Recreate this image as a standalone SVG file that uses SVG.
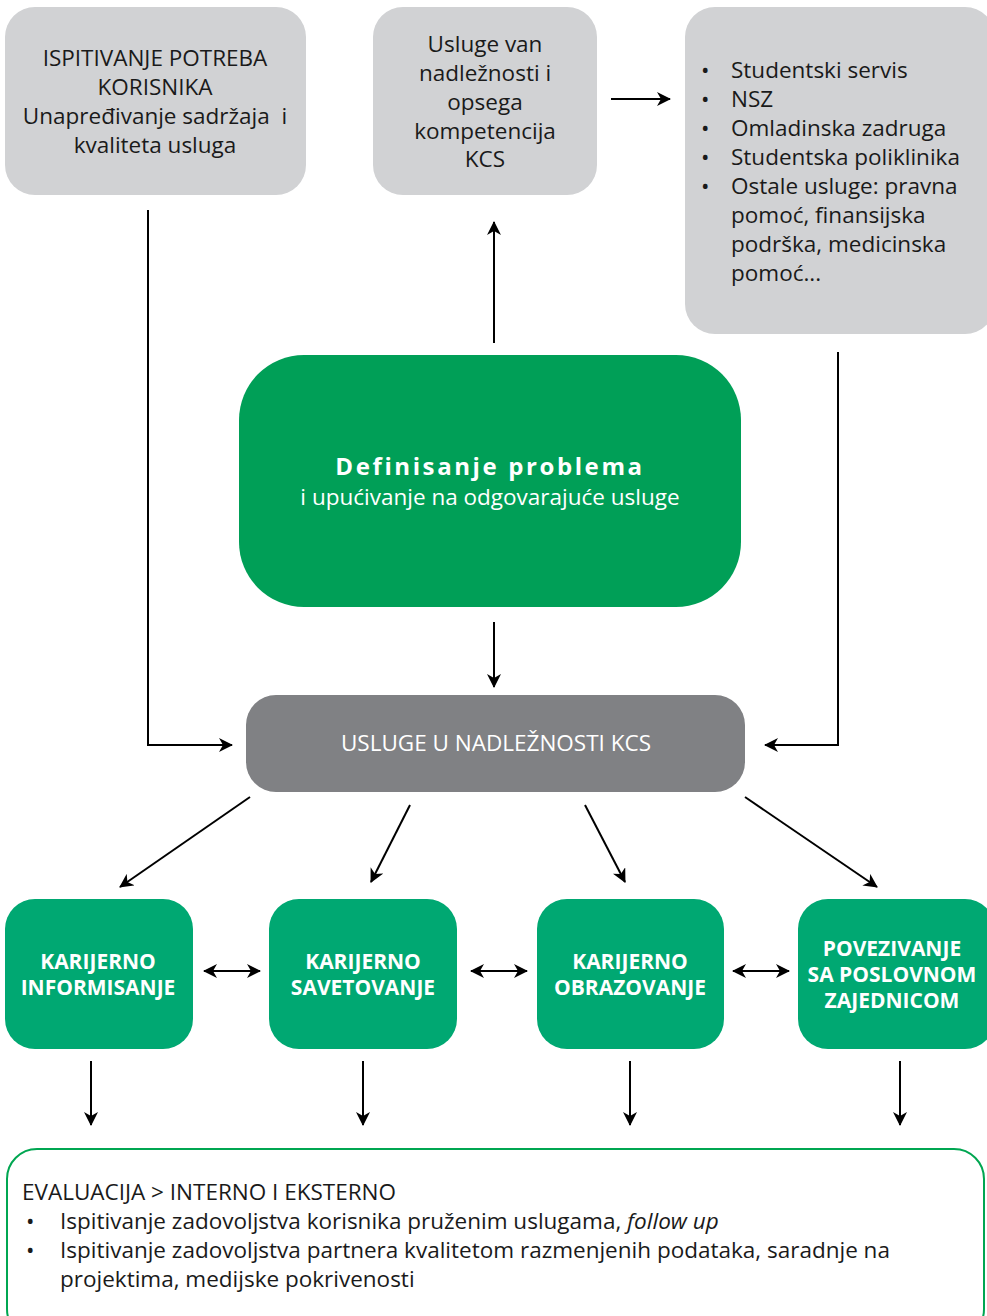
<svg xmlns="http://www.w3.org/2000/svg" width="987" height="1316" viewBox="0 0 987 1316">
<defs>
<marker id="ah2" viewBox="0 0 14 14" refX="13" refY="7" markerWidth="14" markerHeight="14" markerUnits="userSpaceOnUse" orient="auto-start-reverse">
<path d="M0,0 L14,7 L0,14 L4,7 Z" fill="#000"/>
</marker>
</defs>
<style>
.lg{fill:#d1d2d4}
.t{font-family:"Open Sans","Liberation Sans",sans-serif;font-size:22.5px;fill:#1a1a1a}
.tc{text-anchor:middle}
.w{fill:#fff}
.sb{font-family:"Open Sans","Liberation Sans",sans-serif;font-size:21px;font-weight:bold;fill:#fff;text-anchor:middle}
.c{stroke:#000;stroke-width:2;fill:none}
.ca{marker-end:url(#ah2)}
</style>
<rect width="987" height="1316" fill="#fff"/>

<g id="node-ispitivanje">
<rect class="lg" x="5" y="7" width="301" height="188" rx="30"/>
<text class="t tc" x="155" y="66">ISPITIVANJE POTREBA</text>
<text class="t tc" x="155" y="95">KORISNIKA</text>
<text class="t tc" x="155" y="124">Unapređivanje sadržaja&#160; i</text>
<text class="t tc" x="155" y="153">kvaliteta usluga</text>
</g>

<g id="node-van">
<rect class="lg" x="373" y="7" width="224" height="188" rx="30"/>
<text class="t tc" x="485" y="52">Usluge van</text>
<text class="t tc" x="485" y="81">nadležnosti i</text>
<text class="t tc" x="485" y="110">opsega</text>
<text class="t tc" x="485" y="139">kompetencija</text>
<text class="t tc" x="485" y="167">KCS</text>
</g>

<g id="node-lista">
<rect class="lg" x="685" y="7" width="310" height="327" rx="30"/>
<g class="t">
<text x="701" y="78">•</text><text x="731" y="78">Studentski servis</text>
<text x="701" y="107">•</text><text x="731" y="107">NSZ</text>
<text x="701" y="136">•</text><text x="731" y="136">Omladinska zadruga</text>
<text x="701" y="165">•</text><text x="731" y="165">Studentska poliklinika</text>
<text x="701" y="194">•</text><text x="731" y="194">Ostale usluge: pravna</text>
<text x="731" y="223">pomoć, finansijska</text>
<text x="731" y="252">podrška, medicinska</text>
<text x="731" y="281">pomoć...</text>
</g>
</g>

<g id="node-definisanje">
<rect x="239" y="355" width="502" height="252" rx="65" fill="#009f57"/>
<text x="490" y="475" text-anchor="middle" font-family="'Open Sans','Liberation Sans',sans-serif" font-size="24" font-weight="bold" letter-spacing="2.6" fill="#fff">Definisanje problema</text>
<text class="t tc w" x="490" y="505">i upućivanje na odgovarajuće usluge</text>
</g>

<g id="node-usluge">
<rect x="246" y="695" width="499" height="97" rx="30" fill="#808184"/>
<text class="t tc w" x="496" y="751" font-size="21.5">USLUGE U NADLEŽNOSTI KCS</text>
</g>

<g id="node-informisanje">
<rect x="5" y="899" width="188" height="150" rx="30" fill="#00a872"/>
<text class="sb" x="98" y="969">KARIJERNO</text>
<text class="sb" x="98" y="995">INFORMISANJE</text>
</g>
<g id="node-savetovanje">
<rect x="269" y="899" width="188" height="150" rx="30" fill="#00a872"/>
<text class="sb" x="363" y="969">KARIJERNO</text>
<text class="sb" x="363" y="995">SAVETOVANJE</text>
</g>
<g id="node-obrazovanje">
<rect x="537" y="899" width="187" height="150" rx="30" fill="#00a872"/>
<text class="sb" x="630" y="969">KARIJERNO</text>
<text class="sb" x="630" y="995">OBRAZOVANJE</text>
</g>
<g id="node-povezivanje">
<rect x="798" y="899" width="197" height="150" rx="30" fill="#00a872"/>
<text class="sb" x="892" y="956">POVEZIVANJE</text>
<text class="sb" x="892" y="982">SA POSLOVNOM</text>
<text class="sb" x="892" y="1008">ZAJEDNICOM</text>
</g>

<g id="node-evaluacija">
<rect x="7" y="1149" width="977" height="190" rx="30" fill="#fff" stroke="#00a651" stroke-width="2"/>
<g class="t">
<text x="22" y="1200">EVALUACIJA &gt; INTERNO I EKSTERNO</text>
<text x="26" y="1229">•</text><text x="60" y="1229">Ispitivanje zadovoljstva korisnika pruženim uslugama, <tspan font-style="italic">follow up</tspan></text>
<text x="26" y="1258">•</text><text x="60" y="1258">Ispitivanje zadovoljstva partnera kvalitetom razmenjenih podataka, saradnje na</text>
<text x="60" y="1287">projektima, medijske pokrivenosti</text>
</g>
</g>

<g id="connectors">
<path class="c ca" d="M611,99 L670,99"/>
<path class="c ca" d="M494,343 L494,222"/>
<path class="c ca" d="M494,622 L494,687"/>
<path class="c ca" d="M148,210 L148,745 L232,745"/>
<path class="c ca" d="M838,352 L838,745 L765,745"/>
<path class="c ca" d="M250,797 L120,887"/>
<path class="c ca" d="M410,805 L371,882"/>
<path class="c ca" d="M585,805 L625,882"/>
<path class="c ca" d="M745,797 L877,887"/>
<path class="c ca" d="M204,971 L260,971" marker-start="url(#ah2)"/>
<path class="c ca" d="M471,971 L527,971" marker-start="url(#ah2)"/>
<path class="c ca" d="M733,971 L789,971" marker-start="url(#ah2)"/>
<path class="c ca" d="M91,1061 L91,1125"/>
<path class="c ca" d="M363,1061 L363,1125"/>
<path class="c ca" d="M630,1061 L630,1125"/>
<path class="c ca" d="M900,1061 L900,1125"/>
</g>
</svg>
